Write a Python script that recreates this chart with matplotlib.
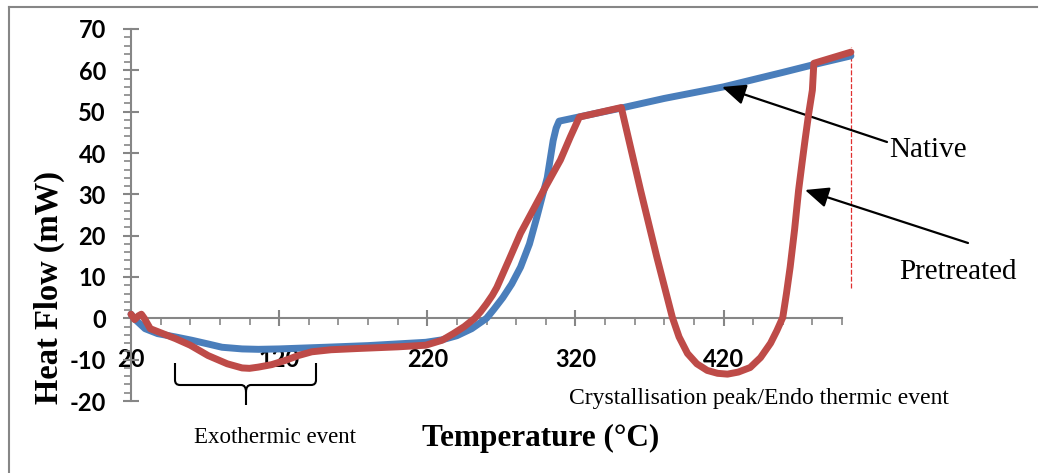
import numpy as np
import matplotlib.pyplot as plt
from matplotlib.path import Path
from matplotlib.patches import PathPatch
from matplotlib.ticker import MultipleLocator

plt.rcParams['axes.unicode_minus'] = False

# Native sample (blue)
native_T = [20, 22, 25, 29.5, 38, 50, 61, 72, 81.5, 95, 106, 120, 151, 180, 219, 230, 240, 250,
            260, 265, 271, 277, 283, 289, 294, 298, 301, 303, 305, 307, 309, 330, 350, 380, 420, 460,
            480, 506]
native_H = [1, 0, -1, -2.5, -3.7, -4.5, -5.3, -6.2, -7, -7.4, -7.5, -7.4, -7, -6.6, -5.8, -5.2, -4.2, -2.5,
            0, 2.2, 5, 8.3, 12.4, 18, 24.5, 30, 34, 38.5, 43, 46, 47.7, 49.3, 50.8, 53.2, 56, 59.5,
            61.3, 63.5]

# Pretreated sample (red)
pre_T = [20, 22.5, 25, 27, 29, 33, 50, 60, 72, 85, 95, 100, 106, 115, 124, 133, 142, 155, 173, 200,
         219, 230, 237.6, 245, 252, 256, 260, 264, 267, 275, 283, 298.6, 305.4, 309.9, 316.6, 322.7,
         351, 364, 375, 385.5, 390, 395.7, 402, 409, 416, 422.7, 430, 438, 445, 451.8, 456, 460,
         462.5, 465, 468, 470.7, 473, 475, 477.5, 480, 481, 506]
pre_H = [1, -0.3, 0.6, 1, 0, -2.5, -4.9, -6.5, -9, -11, -12, -12.1, -11.8, -11.2, -10.2, -9, -8.1, -7.6, -7.3, -6.9,
         -6.5, -5.3, -3.7, -2, 0, 1.6, 3.5, 5.6, 7.5, 14, 20.6, 31, 35.4, 38.3, 43.9, 48.7,
         51, 31, 14.8, 0.2, -4.5, -8.5, -11, -12.6, -13.3, -13.5, -13, -11.9, -9.5, -6, -3, 0.2,
         6, 12.4, 21.5, 31, 37.5, 43, 49.5, 55.2, 61.7, 64.4]

x_ticks = [20, 120, 220, 320, 420]
y_ticks = [-20, -10, 0, 10, 20, 30, 40, 50, 60, 70]

W, H = 1046, 473


def fp(px, py):
    # pixel (top-left origin) -> figure fraction
    return (px / W, 1 - py / H)


fig = plt.figure(figsize=(W / 100, H / 100), dpi=100)
ax = fig.add_axes([131 / W, 1 - 401 / H, (842 - 131) / W, (401 - 29) / H])

blue = '#4a7ebb'
red = '#be4b48'
ax.plot(native_T, native_H, color=blue, lw=5, solid_capstyle='round', solid_joinstyle='round',
        clip_on=False, zorder=3)
ax.plot(pre_T, pre_H, color=red, lw=5, solid_capstyle='round', solid_joinstyle='round',
        clip_on=False, zorder=4)
ax.plot([506, 506], [7.3, 65.6], color='#e03030', lw=0.9, ls=(0, (4, 1.5)), clip_on=False)

ax.set_xlim(20, 500)
ax.set_ylim(-20, 70)

grey = '#868686'
for s in ['top', 'right']:
    ax.spines[s].set_visible(False)
ax.spines['bottom'].set_position(('data', 0))
ax.spines['bottom'].set_color(grey)
ax.spines['left'].set_color(grey)
ax.spines['bottom'].set_linewidth(1.5)
ax.spines['left'].set_linewidth(1.5)

ax.set_xticks(x_ticks)
ax.set_yticks(y_ticks)
ax.xaxis.set_minor_locator(MultipleLocator(20))
ax.yaxis.set_minor_locator(MultipleLocator(2))
ax.tick_params(which='major', direction='inout', length=12, width=1.5, color=grey)
ax.tick_params(which='minor', direction='out', length=5, width=1.2, color=grey)
ax.tick_params(axis='x', which='major', pad=15)
ax.tick_params(axis='y', which='major', pad=12)

for lab in ax.get_xticklabels() + ax.get_yticklabels():
    lab.set_fontfamily('Lato')
    lab.set_fontweight('bold')
    lab.set_fontsize(17)

fig.text(*fp(49, 287), 'Heat Flow (mW)', rotation=90, ha='center', va='center',
         family='Liberation Serif', weight='bold', fontsize=23.5)
fig.text(*fp(541, 438), 'Temperature (°C)', ha='center', va='center',
         family='Liberation Serif', weight='bold', fontsize=22.5)

fig.text(*fp(275, 437), 'Exothermic event', ha='center', va='center',
         family='Liberation Serif', fontsize=16.5)
fig.text(*fp(759, 398), 'Crystallisation peak/Endo thermic event', ha='center', va='center',
         family='Liberation Serif', fontsize=17)

arrow = dict(arrowstyle='-|>,head_length=0.8,head_width=0.35', lw=1.6, color='black',
             mutation_scale=18, shrinkA=0, shrinkB=0)
ax.annotate('', xy=fp(722, 87), xytext=fp(887, 142), xycoords='figure fraction',
            textcoords='figure fraction', arrowprops=arrow)
ax.annotate('', xy=fp(805, 190), xytext=fp(968, 243), xycoords='figure fraction',
            textcoords='figure fraction', arrowprops=arrow)
fig.text(*fp(889, 150), 'Native', ha='left', va='center', family='Liberation Serif', fontsize=21)
fig.text(*fp(899, 272), 'Pretreated', ha='left', va='center', family='Liberation Serif', fontsize=21)

# curly brace under the exothermic dip
pts = [(175, 363), (175, 380), (175, 385), (180, 385), (241, 385), (246, 385), (246, 392), (246, 405),
       (246, 392), (246, 385), (251, 385), (311, 385), (316, 385), (316, 380), (316, 363)]
codes = [Path.MOVETO, Path.LINETO, Path.CURVE3, Path.CURVE3, Path.LINETO, Path.CURVE3, Path.CURVE3,
         Path.LINETO, Path.MOVETO, Path.CURVE3, Path.CURVE3, Path.LINETO, Path.CURVE3, Path.CURVE3,
         Path.LINETO]
brace = Path([fp(*p) for p in pts], codes)
fig.patches.append(PathPatch(brace, transform=fig.transFigure, fill=False, lw=1.5, color='black'))

# outer frame
fig.add_artist(plt.Line2D([9 / W, 9 / W], [0, 1 - 7 / H], transform=fig.transFigure, color=grey, lw=1.5))
fig.add_artist(plt.Line2D([9 / W, 1037 / W], [1 - 7 / H, 1 - 7 / H], transform=fig.transFigure, color=grey, lw=1.5))

fig.savefig('out.png', dpi=100)
